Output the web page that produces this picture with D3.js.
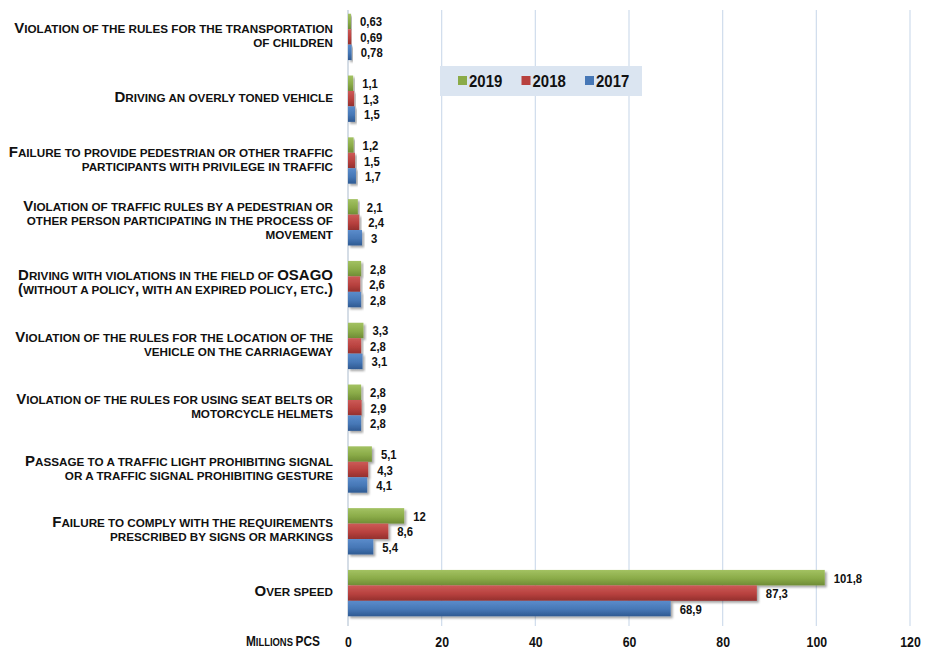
<!DOCTYPE html>
<html><head><meta charset="utf-8">
<script src="https://cdn.jsdelivr.net/npm/d3@7"></script>
<style>
body{margin:0;background:#fff;}
text{font-family:"Liberation Sans",Arial,Helvetica,sans-serif;font-weight:bold;fill:#111;}
</style></head><body>
<svg id="c" width="941" height="658"></svg>
<script>
const categories = [
  ["Violation of the rules for the transportation","of children"],
  ["Driving an overly toned vehicle"],
  ["Failure to provide pedestrian or other traffic","participants with privilege in traffic"],
  ["Violation of traffic rules by a pedestrian or","other person participating in the process of","movement"],
  ["Driving with violations in the field of OSAGO","(without a policy, with an expired policy, etc.)"],
  ["Violation of the rules for the location of the","vehicle on the carriageway"],
  ["Violation of the rules for using seat belts or","motorcycle helmets"],
  ["Passage to a traffic light prohibiting signal","or a traffic signal prohibiting gesture"],
  ["Failure to comply with the requirements","prescribed by signs or markings"],
  ["Over speed"]
];
const series = ["2019","2018","2017"];
const values2019 = [0.63,1.1,1.2,2.1,2.8,3.3,2.8,5.1,12,101.8];
const values2018 = [0.69,1.3,1.5,2.4,2.6,2.8,2.9,4.3,8.6,87.3];
const values2017 = [0.78,1.5,1.7,3,2.8,3.1,2.8,4.1,5.4,68.9];
const xTicks = [0,20,40,60,80,100,120];
const axisTitle = "Millions PCS";

const colors = {"2019":["#a3c262","#8aab48","#6f8c35"],"2018":["#cc5a57","#b8413e","#93302e"],"2017":["#5b8ccb","#4677b6","#2f5a92"]};
const vals = {"2019":values2019,"2018":values2018,"2017":values2017};

const svg = d3.select("#c");
const defs = svg.append("defs");
series.forEach(s=>{
  const g = defs.append("linearGradient").attr("id","g"+s).attr("x1",0).attr("y1",0).attr("x2",0).attr("y2",1);
  g.append("stop").attr("offset","0%").attr("stop-color",colors[s][0]);
  g.append("stop").attr("offset","55%").attr("stop-color",colors[s][1]);
  g.append("stop").attr("offset","100%").attr("stop-color",colors[s][2]);
});
const f = defs.append("filter").attr("id","sh").attr("x","-10%").attr("y","-20%").attr("width","130%").attr("height","160%");
f.append("feDropShadow").attr("dx",2).attr("dy",2).attr("stdDeviation",1.3).attr("flood-color","#000").attr("flood-opacity",0.35);

function smallCaps(textSel, str, BIG, SMALL){
  const runs = [];
  for (const ch of str){
    const isLower = ch !== ch.toUpperCase();
    const big = !isLower && ch !== " ";
    const sz = big ? BIG : SMALL;
    if (runs.length && runs[runs.length-1].sz === sz) runs[runs.length-1].t += ch.toUpperCase();
    else runs.push({sz, t: ch.toUpperCase()});
  }
  runs.forEach(r=>textSel.append("tspan").attr("font-size",r.sz).text(r.t));
  return textSel;
}
function squeezed(parent, x, y, s, anchor){
  return parent.append("text").attr("transform",`translate(${x},${y}) scale(${s},1)`).attr("text-anchor",anchor);
}

const x = d3.scaleLinear().domain([0,120]).range([348,910]);
const idx = d3.range(categories.length);
const y = d3.scaleBand().domain(idx).range([6,624]).paddingInner(0.25).paddingOuter(0.125);
const ys = d3.scaleBand().domain(series).range([0,y.bandwidth()]);

// gridlines
svg.append("g").selectAll("line").data(xTicks).join("line")
  .attr("x1",d=>x(d)).attr("x2",d=>x(d)).attr("y1",10).attr("y2",626)
  .attr("stroke",d=>d===0?"#b9c6d6":"#cfdcec").attr("stroke-width",1.2);

// x axis labels (condensed)
const ax = d3.axisBottom(x).tickValues(xTicks).tickSize(0).tickFormat(d3.format("d"));
const axg = svg.append("g").attr("transform","translate(0,632)").call(ax);
axg.select(".domain").remove();
axg.selectAll(".tick text").style("font-family",null).attr("font-size",15).attr("y",0).attr("dy",0)
  .attr("transform","translate(0,14.5) scale(0.82,1)");
const at = squeezed(svg, 320, 646, 0.82, "end");
smallCaps(at, axisTitle, 14.5, 11.5);

// bars
const gg = svg.append("g").selectAll("g").data(idx).join("g").attr("transform",i=>`translate(0,${y(i)})`);
series.forEach(s=>{
  gg.append("rect").attr("x",x(0)).attr("y",ys(s)).attr("height",ys.bandwidth())
    .attr("width",i=>Math.max(2,x(vals[s][i])-x(0))).attr("fill",`url(#g${s})`).attr("filter","url(#sh)");
  gg.each(function(i){
    const v = vals[s][i];
    squeezed(d3.select(this), Math.max(x(v),x(0)+2)+9, ys(s)+ys.bandwidth()/2+5, 0.84, "start")
      .attr("font-size",13.5).text(String(v).replace(".",","));
  });
});

// category labels
const lh = 14;
const labelTexts = [];
gg.each(function(i){
  const lines = categories[i];
  const cy = y.bandwidth()/2 - 2;
  lines.forEach((l,k)=>{
    const t = squeezed(d3.select(this), 333, cy + (k-(lines.length-1)/2)*lh + 5, 1, "end");
    smallCaps(t, l, 14.5, 11.3);
    labelTexts.push(t);
  });
});
// horizontal condensing factor so the first line spans like the reference
const w0 = labelTexts[0].node().getComputedTextLength();
const sc = 319 / w0;
labelTexts.forEach(t=>{
  t.attr("transform", t.attr("transform").replace(/scale\([^)]*\)/, `scale(${sc},1)`));
});

// legend
const lg = svg.append("g").attr("transform","translate(440,66)");
lg.append("rect").attr("width",202).attr("height",30).attr("fill","#dbe5f1");
const lx = d3.scalePoint().domain(series).range([18,145]);
series.forEach(s=>{
  lg.append("rect").attr("x",lx(s)).attr("y",10).attr("width",9).attr("height",9).attr("fill",colors[s][1]);
  squeezed(lg, lx(s)+11, 20.5, 0.88, "start").attr("font-size",17).text(s);
});
</script></body></html>
